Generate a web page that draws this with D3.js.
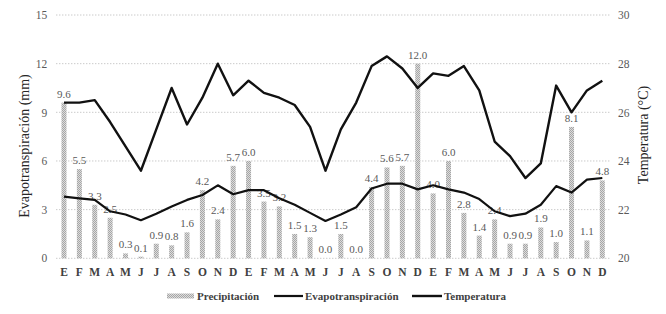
<!DOCTYPE html>
<html><head><meta charset="utf-8">
<script src="https://cdn.jsdelivr.net/npm/d3@7"></script>
<style>body{margin:0;background:#fff}svg{display:block}
svg text{font-family:"Liberation Serif","Times New Roman",Times,serif !important}</style>
</head><body><svg id="c" width="666" height="314"></svg>
<script>
const months = ["E","F","M","A","M","J","J","A","S","O","N","D","E","F","M","A","M","J","J","A","S","O","N","D","E","F","M","A","M","J","J","A","S","O","N","D"];
const precipitation = [9.6,5.5,3.3,2.5,0.3,0.1,0.9,0.8,1.6,4.2,2.4,5.7, 6.0,3.5,3.2,1.5,1.3,0.0,1.5,0.0,4.4,5.6,5.7,12.0, 4.0,6.0,2.8,1.4,2.4,0.9,0.9,1.9,1.0,8.1,1.1,4.8];
const evapotranspiration = [3.8,3.7,3.6,2.9,2.7,2.35,2.75,3.2,3.6,3.9,4.5,3.95, 4.2,4.2,3.7,3.3,2.8,2.3,2.7,3.15,4.3,4.6,4.6,4.25, 4.5,4.25,4.05,3.65,2.9,2.6,2.75,3.3,4.45,4.05,4.85,4.95];
const temperature = [26.4,26.4,26.5,25.6,24.6,23.6,25.3,27.0,25.5,26.6,28.0,26.7, 27.3,26.8,26.6,26.3,25.4,23.6,25.3,26.4,27.9,28.3,27.8,27.0, 27.6,27.5,27.9,26.9,24.8,24.2,23.3,23.9,27.1,26.0,26.9,27.3];
const leftTicks = [0,3,6,9,12,15];
const rightTicks = [20,22,24,26,28,30];

const svg = d3.select("#c");
const M = {l:56.3, r:610, t:15, b:258.3};
const font = "Liberation Serif";

const defs = svg.append("defs");
const pat = defs.append("pattern").attr("id","hatch").attr("width",2).attr("height",2).attr("patternUnits","userSpaceOnUse");
pat.append("rect").attr("width",2).attr("height",2).attr("fill","#dcdcdc");
pat.append("rect").attr("width",1).attr("height",1).attr("fill","#a6a6a6");
pat.append("rect").attr("x",1).attr("y",1).attr("width",1).attr("height",1).attr("fill","#a6a6a6");

const x = d3.scaleBand().domain(d3.range(months.length)).range([M.l, M.r]);
const yL = d3.scaleLinear().domain([0,15]).range([M.b, M.t]);
const yR = d3.scaleLinear().domain([20,30]).range([M.b, M.t]);

svg.append("g").selectAll("line").data(leftTicks).join("line")
  .attr("x1",M.l).attr("x2",M.r).attr("y1",d=>yL(d)).attr("y2",d=>yL(d))
  .attr("stroke","#b4b4b4").attr("stroke-width",1).attr("stroke-dasharray","1,2");

const axL = svg.append("g").attr("transform",`translate(${M.l-4},0)`)
  .call(d3.axisLeft(yL).tickValues(leftTicks).tickSize(0).tickPadding(5));
axL.select(".domain").remove();
axL.selectAll("text").attr("font-size",11.5).attr("fill","#595959");

const axR = svg.append("g").attr("transform",`translate(${M.r+3},0)`)
  .call(d3.axisRight(yR).tickValues(rightTicks).tickSize(0).tickPadding(5));
axR.select(".domain").remove();
axR.selectAll("text").attr("font-size",11.5).attr("fill","#595959");

const axB = svg.append("g").attr("transform",`translate(0,${M.b+2})`)
  .call(d3.axisBottom(x).tickFormat(i=>months[i]).tickSize(0).tickPadding(8));
axB.select(".domain").remove();
axB.selectAll("text").attr("font-size",11.5).attr("font-weight","bold").attr("fill","#404040");

const bw = 5;
svg.append("g").selectAll("rect").data(precipitation).join("rect")
  .attr("x",(d,i)=>x(i)+x.bandwidth()/2-bw/2).attr("width",bw)
  .attr("y",d=>yL(d)).attr("height",d=>M.b-yL(d)).attr("fill","url(#hatch)");

svg.append("g").selectAll("text").data(precipitation).join("text")
  .attr("x",(d,i)=>x(i)+x.bandwidth()/2).attr("y",d=>yL(d)-5)
  .attr("text-anchor","middle").attr("font-size",11).attr("fill","#595959")
  .text(d=>d.toFixed(1));

const lineE = d3.line().x((d,i)=>x(i)+x.bandwidth()/2).y(d=>yL(d));
const lineT = d3.line().x((d,i)=>x(i)+x.bandwidth()/2).y(d=>yR(d));
svg.append("path").datum(evapotranspiration).attr("d",lineE).attr("fill","none").attr("stroke","#111").attr("stroke-width",2.2).attr("stroke-linejoin","round");
svg.append("path").datum(temperature).attr("d",lineT).attr("fill","none").attr("stroke","#111").attr("stroke-width",2.4).attr("stroke-linejoin","round");

svg.append("text").attr("transform","translate(29,146) rotate(-90)").attr("text-anchor","middle")
  .attr("font-size",14).attr("fill","#262626").text("Evapotranspiración (mm)");
svg.append("text").attr("transform","translate(648,135) rotate(-90)").attr("text-anchor","middle")
  .attr("font-size",14).attr("fill","#262626").text("Temperatura (°C)");

const lg = svg.append("g").attr("font-size",11).attr("font-weight","bold").attr("fill","#404040");
const ly = 296;
lg.append("rect").attr("x",167).attr("y",ly-2.5).attr("width",27).attr("height",5).attr("fill","url(#hatch)");
lg.append("text").attr("x",197).attr("y",ly+3.5).text("Precipitación");
lg.append("line").attr("x1",274).attr("x2",303).attr("y1",ly).attr("y2",ly).attr("stroke","#111").attr("stroke-width",2.2);
lg.append("text").attr("x",305).attr("y",ly+3.5).text("Evapotranspiración");
lg.append("line").attr("x1",412).attr("x2",442).attr("y1",ly).attr("y2",ly).attr("stroke","#111").attr("stroke-width",2.4);
lg.append("text").attr("x",444).attr("y",ly+3.5).text("Temperatura");
</script></body></html>
